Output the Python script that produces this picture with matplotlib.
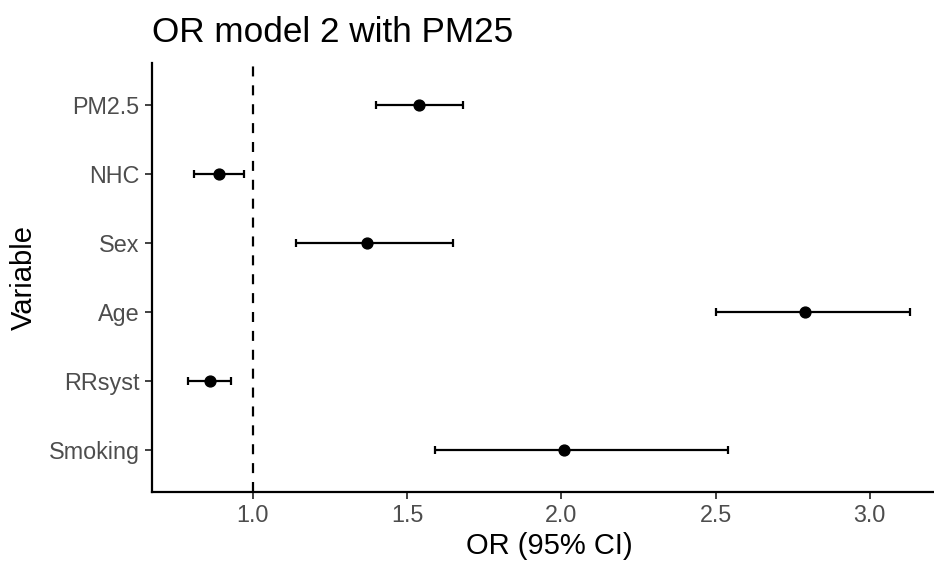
import matplotlib
matplotlib.use("Agg")
import matplotlib.pyplot as plt

# odds ratios with 95% CI, top to bottom as shown
variables = ["PM2.5", "NHC", "Sex", "Age", "RRsyst", "Smoking"]
odds_ratio = [1.54, 0.89, 1.37, 2.79, 0.86, 2.01]
ci_lower = [1.40, 0.81, 1.14, 2.50, 0.79, 1.59]
ci_upper = [1.68, 0.97, 1.65, 3.13, 0.93, 2.54]
x_ticks = [1.0, 1.5, 2.0, 2.5, 3.0]

plt.rcParams["font.family"] = ["Liberation Sans", "DejaVu Sans"]

W, H = 934, 563
fig = plt.figure(figsize=(W / 100, H / 100), dpi=100)
# panel runs a little past the right edge, like the cropped original
ax = fig.add_axes([152 / W, (H - 492) / H, (946 - 152) / W, (492 - 63) / H])

# factor order: first variable sits at the top
ypos = list(range(len(variables), 0, -1))
err_lo = [o - l for o, l in zip(odds_ratio, ci_lower)]
err_hi = [u - o for o, u in zip(odds_ratio, ci_upper)]

ax.axvline(1.0, color="black", linewidth=1.6, linestyle=(0, (4.5, 4)), zorder=1)
ax.errorbar(odds_ratio, ypos, xerr=[err_lo, err_hi], fmt="o", color="black",
            markersize=7.8, elinewidth=1.6, capsize=2.6, capthick=1.6, zorder=3)

lo, hi = min(ci_lower), max(ci_upper)
pad = 0.05 * (hi - lo)
ax.set_xlim(lo - pad, hi + pad)
ax.set_ylim(0.4, len(variables) + 0.6)

ax.set_yticks(ypos)
ax.set_yticklabels(variables)
ax.set_xticks(x_ticks)
ax.set_xticklabels([f"{t:.1f}" for t in x_ticks])

for side in ["top", "right"]:
    ax.spines[side].set_visible(False)
for side in ["left", "bottom"]:
    ax.spines[side].set_linewidth(1.6)
    ax.spines[side].set_color("black")

ax.tick_params(axis="both", length=5, width=1.3, color="#333333",
               labelcolor="#4D4D4D", labelsize=16.8, pad=4)

ax.set_xlabel("OR (95% CI)", fontsize=21, color="black", labelpad=3)
ax.set_ylabel("Variable", fontsize=21, color="black", labelpad=8)

fig.text(152 / W, 1 - 32 / H, "OR model 2 with PM25", fontsize=25.3,
         ha="left", va="center", color="black")

fig.savefig("out.png", dpi=100, facecolor="white")
